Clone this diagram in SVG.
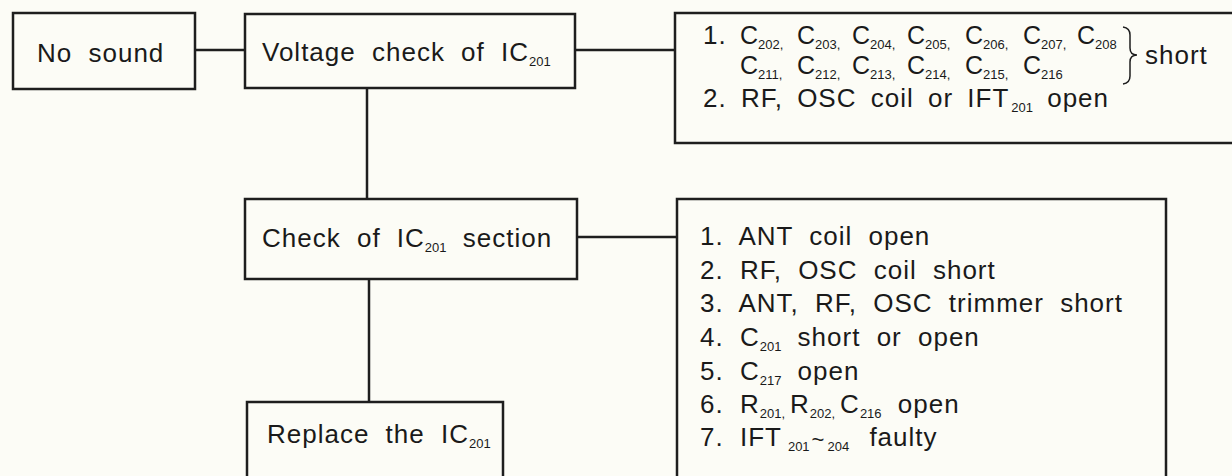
<svg xmlns="http://www.w3.org/2000/svg" width="1232" height="476" viewBox="0 0 1232 476">
<style>
.bg{fill:#fcfcf6}
.box{fill:#fcfcf6;stroke:#1e1e1e;stroke-width:2.5}
.ln{fill:none;stroke:#1e1e1e;stroke-width:2.5}
.br{fill:none;stroke:#1e1e1e;stroke-width:1.5}
text{font-family:"Liberation Sans",Arial,sans-serif;font-size:26px;fill:#1a1a1a;letter-spacing:1px;word-spacing:8px}
.c{font-size:25px;letter-spacing:0;word-spacing:0}
.s{font-size:13px;letter-spacing:0;word-spacing:0}
</style>
<rect class="bg" x="0" y="0" width="1232" height="476"/>
<g id="connectors">
<line class="ln" x1="195" y1="50" x2="245" y2="50"/>
<line class="ln" x1="575" y1="50" x2="675" y2="50"/>
<line class="ln" x1="367" y1="88" x2="367" y2="199"/>
<line class="ln" x1="577" y1="237" x2="677" y2="237"/>
<line class="ln" x1="369" y1="279" x2="369" y2="402"/>
</g>
<g id="no-sound">
<rect class="box" x="13" y="13" width="182" height="76"/>
<text x="37" y="62">No sound</text>
</g>
<g id="voltage-check">
<rect class="box" x="245" y="14" width="330" height="74"/>
<text x="262" y="61">Voltage check of IC<tspan class="s" dy="5">201</tspan></text>
</g>
<g id="causes-voltage">
<rect class="box" x="675" y="13" width="570" height="130"/>
<text x="703" y="44">1.</text>
<text class="c" y="44"><tspan x="740">C</tspan><tspan class="s" dy="5">202,</tspan><tspan x="797" dy="-5">C</tspan><tspan class="s" dy="5">203,</tspan><tspan x="852" dy="-5">C</tspan><tspan class="s" dy="5">204,</tspan><tspan x="907" dy="-5">C</tspan><tspan class="s" dy="5">205,</tspan><tspan x="965" dy="-5">C</tspan><tspan class="s" dy="5">206,</tspan><tspan x="1023" dy="-5">C</tspan><tspan class="s" dy="5">207,</tspan><tspan x="1077" dy="-5">C</tspan><tspan class="s" dy="5">208</tspan></text>
<text class="c" y="74"><tspan x="740">C</tspan><tspan class="s" dy="5">211,</tspan><tspan x="797" dy="-5">C</tspan><tspan class="s" dy="5">212,</tspan><tspan x="852" dy="-5">C</tspan><tspan class="s" dy="5">213,</tspan><tspan x="907" dy="-5">C</tspan><tspan class="s" dy="5">214,</tspan><tspan x="965" dy="-5">C</tspan><tspan class="s" dy="5">215,</tspan><tspan x="1023" dy="-5">C</tspan><tspan class="s" dy="5">216</tspan></text>
<path class="br" d="M1123 27 Q1130 28 1130 35 L1130 48 Q1130 55 1137 55 Q1130 55 1130 62 L1130 76 Q1130 83 1123 84"/>
<text x="1145" y="64">short</text>
<text x="703" y="107" style="word-spacing:6px">2. RF, OSC coil or IFT<tspan class="s" dy="5" dx="2">201</tspan><tspan dy="-5"> open</tspan></text>
</g>
<g id="check-section">
<rect class="box" x="245" y="199" width="332" height="80"/>
<text x="262" y="247">Check of IC<tspan class="s" dy="5">201</tspan><tspan dy="-5"> section</tspan></text>
</g>
<g id="causes-section">
<rect class="box" x="677" y="199" width="489" height="290"/>
<text x="700" y="245">1. ANT coil open</text>
<text x="700" y="279">2. RF, OSC coil short</text>
<text x="700" y="312">3. ANT, RF, OSC trimmer short</text>
<text x="700" y="346">4. C<tspan class="s" dy="5">201</tspan><tspan dy="-5"> short or open</tspan></text>
<text x="700" y="380">5. C<tspan class="s" dy="5">217</tspan><tspan dy="-5"> open</tspan></text>
<text x="700" y="413">6. R<tspan class="s" dy="5">201,</tspan><tspan dx="5" dy="-5">R</tspan><tspan class="s" dy="5">202,</tspan><tspan dx="5" dy="-5">C</tspan><tspan class="s" dy="5">216</tspan><tspan dy="-5"> open</tspan></text>
<text x="700" y="446">7. IFT<tspan class="s" dy="5" dx="6">201</tspan><tspan class="s" dy="-4" dx="2" style="font-size:22px">~</tspan><tspan class="s" dy="4" dx="3">204</tspan><tspan dy="-5" dx="4"> faulty</tspan></text>
</g>
<g id="replace">
<rect class="box" x="247" y="402" width="256" height="90"/>
<text x="267" y="443">Replace the IC<tspan class="s" dy="5">201</tspan></text>
</g>
</svg>
